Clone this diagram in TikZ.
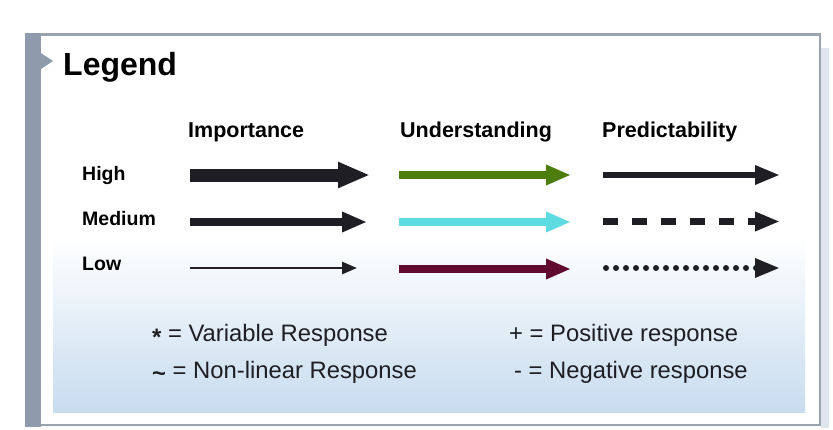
\documentclass[tikz,border=0pt]{standalone}
\usepackage{fontspec}
\setmainfont{Liberation Sans}
\usepackage{tikz}
\usetikzlibrary{arrows.meta}
\usetikzlibrary{positioning}
\definecolor{framegray}{RGB}{154, 164, 175}
\definecolor{bargray}{RGB}{142, 155, 172}
\definecolor{shadowgray}{RGB}{223, 229, 236}
\definecolor{panelblue}{RGB}{200, 220, 239}
\definecolor{ink}{RGB}{30, 30, 36}
\definecolor{hgreen}{RGB}{76, 125, 14}
\definecolor{hcyan}{RGB}{95, 220, 226}
\definecolor{hmaroon}{RGB}{95, 10, 46}
\tikzset{
    title/.style = {
      anchor=base west,
      inner sep=0pt,
      font=\fontsize{32}{36}\selectfont\bfseries
    },
    colhead/.style = {
      anchor=base west,
      inner sep=0pt,
      font=\fontsize{21.5}{24}\selectfont\bfseries
    },
    rowlabel/.style = {
      anchor=base west,
      inner sep=0pt,
      font=\fontsize{19.5}{22}\selectfont\bfseries
    },
    note/.style = {
      anchor=base west,
      inner sep=0pt,
      text=ink,
      font=\fontsize{23.8}{26}\selectfont
    },
    bigarrow/.style = {
      draw=ink, line width=13pt,
      -{Triangle[length=32pt, width=24pt]}
    },
    midarrow/.style = {
      line width=8pt,
      -{Triangle[length=25pt, width=19pt]}
    },
    thinarrow/.style = {
      draw=ink, line width=2.5pt,
      -{Triangle[length=15pt, width=12pt]}
    },
    solidarrow/.style = {
      draw=ink, line width=6pt,
      -{Triangle[length=25pt, width=18pt]}
    },
    dashedarrow/.style = {
      draw=ink, line width=7pt,
      dash pattern=on 15pt off 14pt,
      -{Triangle[length=25pt, width=18pt]}
    },
    dottedarrow/.style = {
      draw=ink, line width=6pt, line cap=round,
      dash pattern=on 0pt off 10pt,
      -{Triangle[length=25pt, width=18pt]}
    },
}
\begin{document}
\begin{tikzpicture}[x=1pt, y=-1pt]
  \useasboundingbox (0,0) rectangle (833,429);

  % frame
  \fill[shadowgray] (821,48) rectangle (829,428);
  \draw[framegray, line width=2.5pt, fill=white] (27,34.5) rectangle (820,425);
  \shade[top color=white, bottom color=panelblue] (53,237) rectangle (805,412);
  \fill[bargray] (25,33) rectangle (41,427);
  \fill[bargray] (41,53) -- (53,61) -- (41,69) -- cycle;

  \node [title] (legend) at (63,75) {Legend};

  % column heads
  \node [colhead] (importance) at (188,137) {Importance};
  \node [colhead] (understanding) at (400,137) {Understanding};
  \node [colhead] (predictability) at (602,137) {Predictability};

  % row labels
  \node [rowlabel] (high) at (82,180) {High};
  \node [rowlabel] (medium) at (82,225) {Medium};
  \node [rowlabel] (low) at (82,270) {Low};

  % arrow ends
  \coordinate (imp-h-s) at (190,175);   \coordinate (imp-h-e) at (370,175);
  \coordinate (imp-m-s) at (190,222);   \coordinate (imp-m-e) at (367,222);
  \coordinate (imp-l-s) at (190,268);   \coordinate (imp-l-e) at (357,268);
  \coordinate (und-h-s) at (399,175);   \coordinate (und-h-e) at (571,175);
  \coordinate (und-m-s) at (399,222);   \coordinate (und-m-e) at (571,222);
  \coordinate (und-l-s) at (399,269);   \coordinate (und-l-e) at (571,269);
  \coordinate (pre-h-s) at (603,175);   \coordinate (pre-h-e) at (780,175);
  \coordinate (pre-m-s) at (603,221.5); \coordinate (pre-m-e) at (780,221.5);
  \coordinate (pre-l-s) at (606,268);   \coordinate (pre-l-e) at (780,268);

  \draw [bigarrow] (imp-h-s) -- (imp-h-e);
  \draw [midarrow, draw=ink] (imp-m-s) -- (imp-m-e);
  \draw [thinarrow] (imp-l-s) -- (imp-l-e);

  \draw [midarrow, draw=hgreen, fill=hgreen] (und-h-s) -- (und-h-e);
  \draw [midarrow, draw=hcyan, fill=hcyan] (und-m-s) -- (und-m-e);
  \draw [midarrow, draw=hmaroon, fill=hmaroon] (und-l-s) -- (und-l-e);

  \draw [solidarrow] (pre-h-s) -- (pre-h-e);
  \draw [dashedarrow] (pre-m-s) -- (pre-m-e);
  \draw [dottedarrow] (pre-l-s) -- (pre-l-e);

  % key to symbols
  \node [note] (variable) at (152,341)
        {\raisebox{-0.35ex}{\bfseries *} = Variable Response};
  \node [note] (nonlinear) at (152,378)
        {\raisebox{-0.3ex}{\bfseries\textasciitilde} = Non-linear Response};
  \node [note] (positive) at (509,341) {+ = Positive response};
  \node [note] (negative) at (514,378) {- = Negative response};
\end{tikzpicture}
\end{document}
